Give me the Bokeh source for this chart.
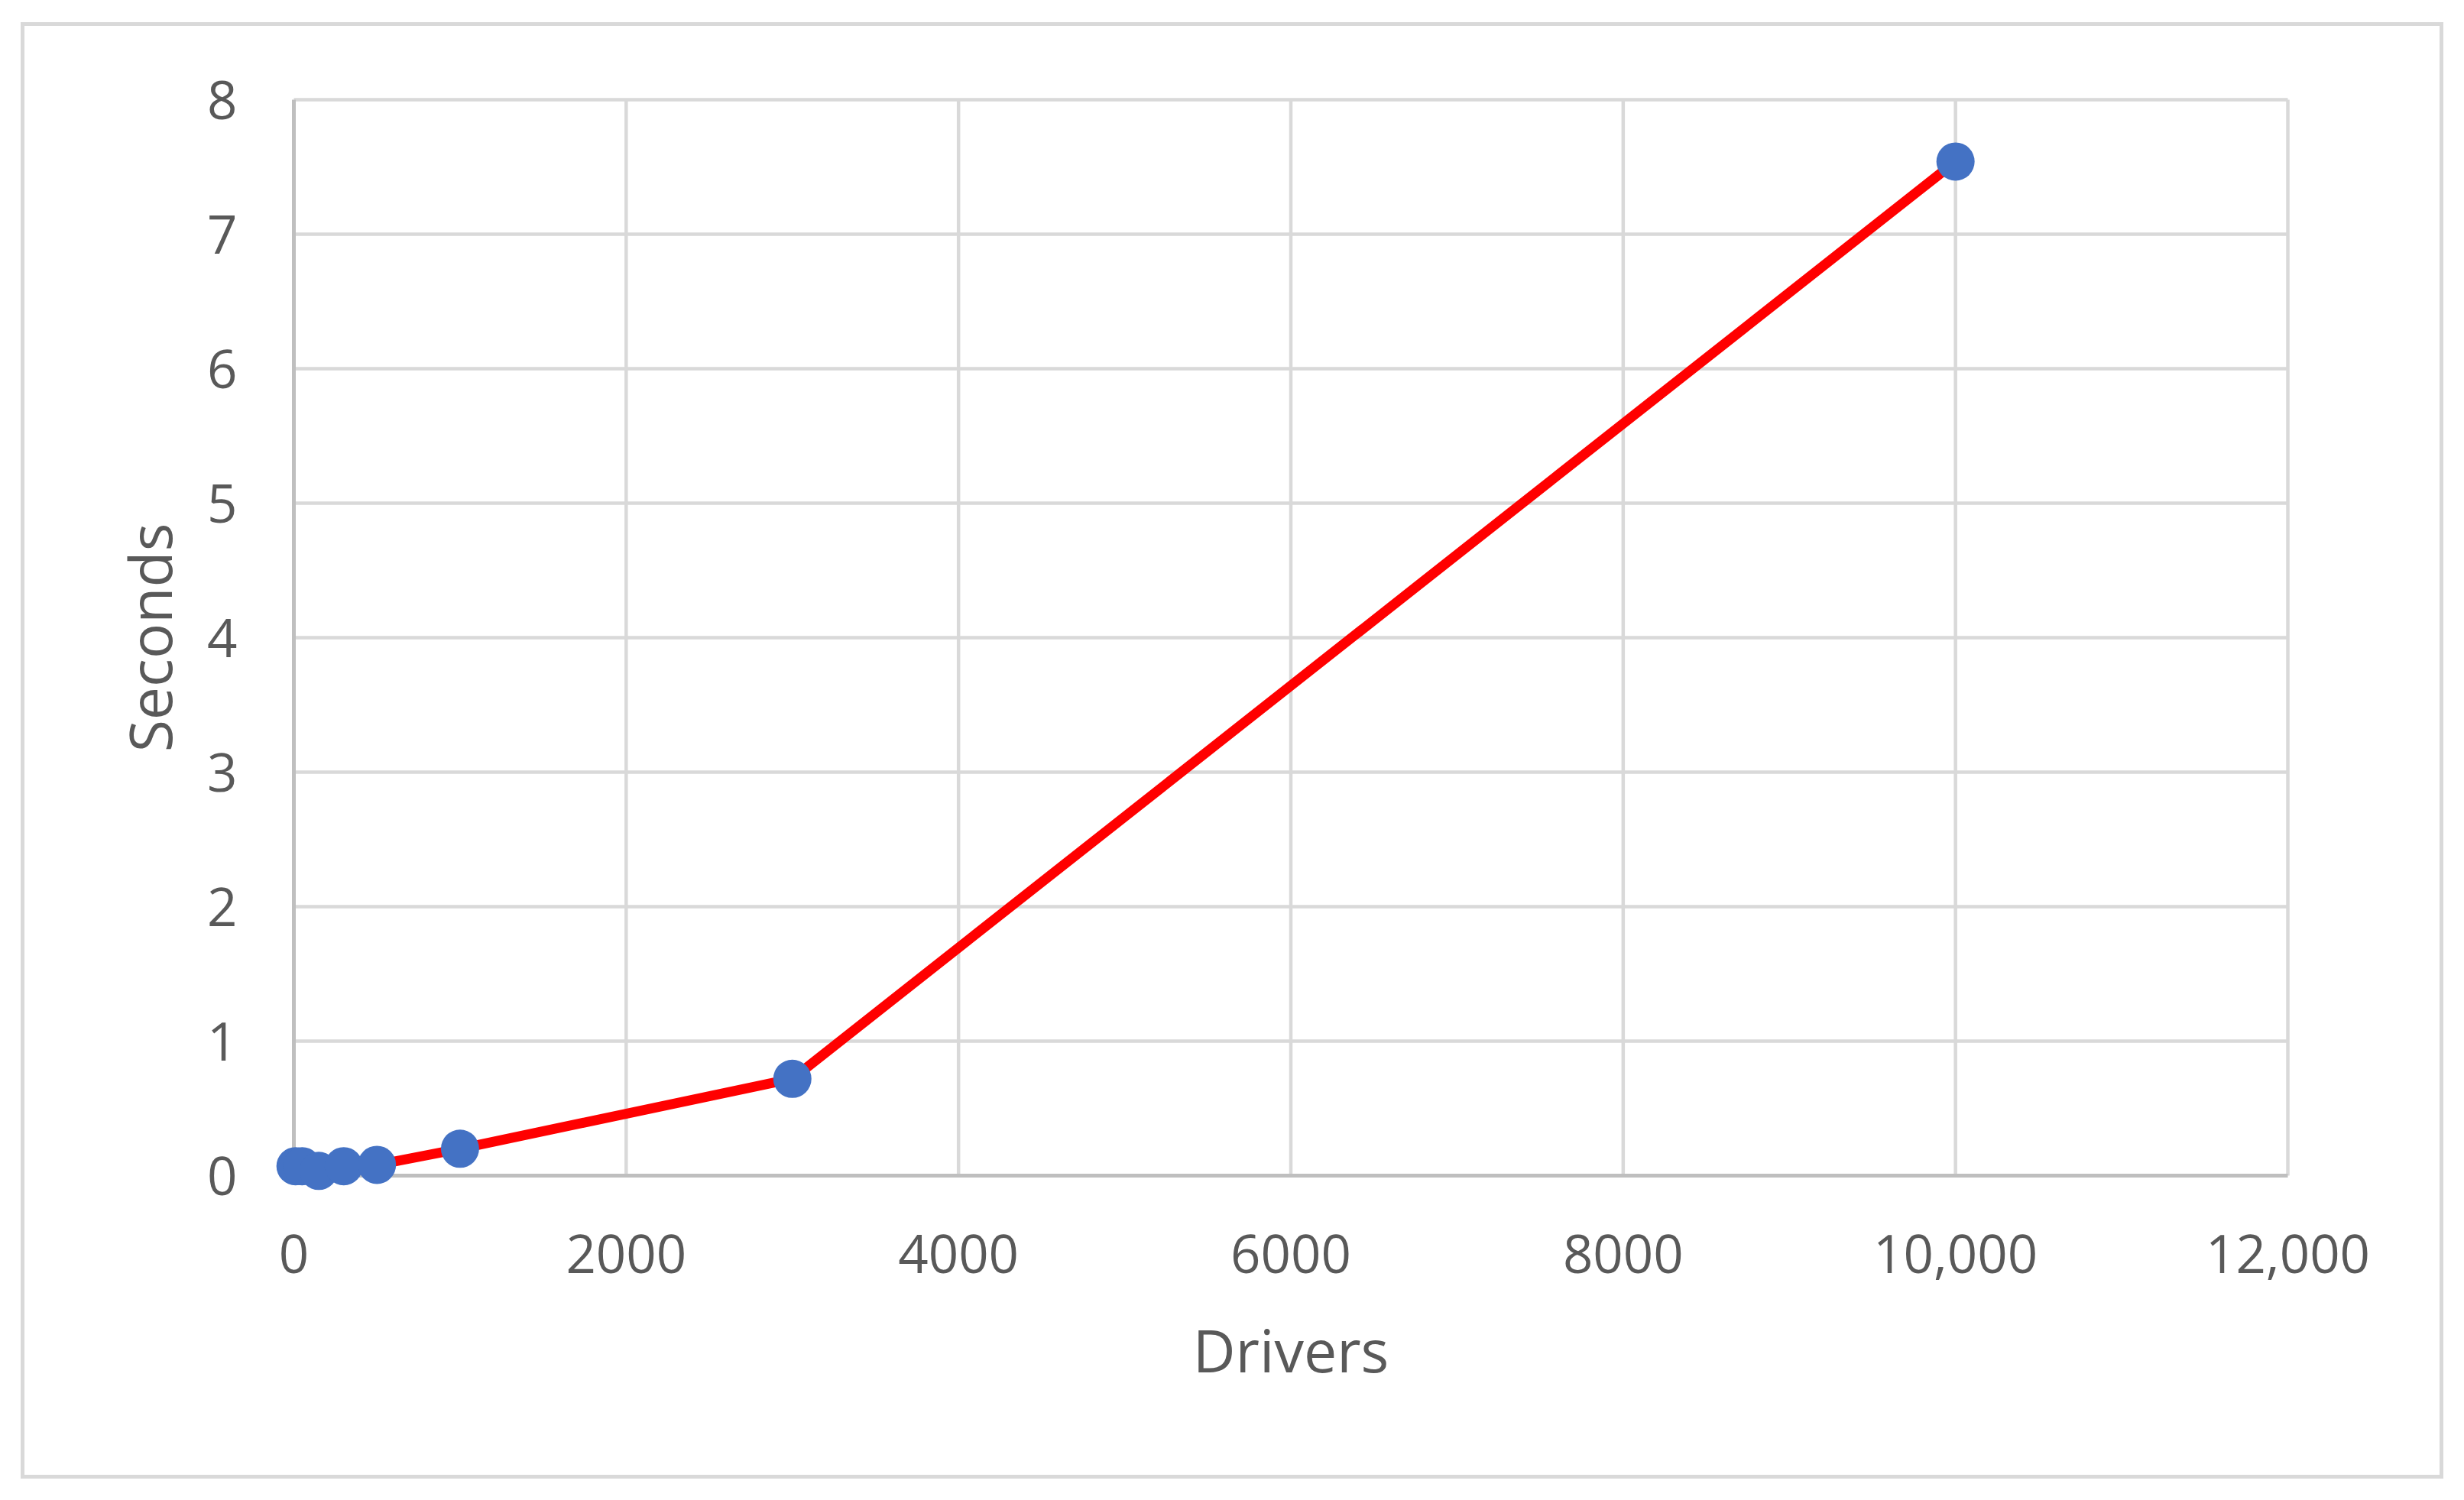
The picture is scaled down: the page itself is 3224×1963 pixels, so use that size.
from bokeh.plotting import figure
from bokeh.models import Range1d, FixedTicker, ColumnDataSource
from bokeh.embed import file_html
from bokeh.resources import INLINE

# ---- data ----
drivers = [10, 50, 150, 300, 500, 1000, 3000, 10000]
seconds = [0.07, 0.07, 0.035, 0.07, 0.08, 0.2, 0.72, 7.54]

x_ticks = [0, 2000, 4000, 6000, 8000, 10000, 12000]
x_tick_labels = ["0", "2000", "4000", "6000", "8000", "10,000", "12,000"]
y_ticks = [0, 1, 2, 3, 4, 5, 6, 7, 8]
y_tick_labels = ["0", "1", "2", "3", "4", "5", "6", "7", "8"]

x_title = "Drivers"
y_title = "Seconds"

# ---- layout geometry ----
FONT = "Open Sans"
TEXT = "#595959"
GRID = "#D9D9D9"
AXIS = "#BFBFBF"

pad_px = 30
data_w, data_h = 2609, 1408
frame_w, frame_h = data_w + 2 * pad_px, data_h + 2 * pad_px
x_per_px = (x_ticks[-1] - x_ticks[0]) / data_w
y_per_px = (y_ticks[-1] - y_ticks[0]) / data_h

p = figure(
    width=3160, height=1896,
    frame_width=frame_w, frame_height=frame_h,
    x_range=Range1d(x_ticks[0] - pad_px * x_per_px, x_ticks[-1] + pad_px * x_per_px),
    y_range=Range1d(y_ticks[0] - pad_px * y_per_px, y_ticks[-1] + pad_px * y_per_px),
    output_backend="svg", toolbar_location=None,
    min_border_left=322, min_border_top=66, min_border_right=169, min_border_bottom=362,
)
p.styles = {"border": "5px solid #D9D9D9", "margin-left": "27px", "margin-top": "29px"}
p.outline_line_color = None
p.xgrid.visible = False
p.ygrid.visible = False

# grid lines (from tick arrays)
p.segment(x0=x_ticks[1:], y0=[y_ticks[0]] * (len(x_ticks) - 1),
          x1=x_ticks[1:], y1=[y_ticks[-1]] * (len(x_ticks) - 1),
          line_color=GRID, line_width=4.5)
p.segment(x0=[x_ticks[0]] * (len(y_ticks) - 1), y0=y_ticks[1:],
          x1=[x_ticks[-1]] * (len(y_ticks) - 1), y1=y_ticks[1:],
          line_color=GRID, line_width=4.5)
# axis lines
p.segment(x0=[x_ticks[0]], y0=[y_ticks[0]], x1=[x_ticks[-1]], y1=[y_ticks[0]],
          line_color=AXIS, line_width=5)
p.segment(x0=[x_ticks[0]], y0=[y_ticks[0]], x1=[x_ticks[0]], y1=[y_ticks[-1]],
          line_color=AXIS, line_width=5)

src = ColumnDataSource(dict(x=drivers, y=seconds))
p.line("x", "y", source=src, line_color="#FF0000", line_width=13, line_join="round")
p.scatter("x", "y", source=src, size=50, fill_color="#4472C4", line_color=None)

# axes
p.xaxis.ticker = FixedTicker(ticks=x_ticks)
p.xaxis.major_label_overrides = {t: l for t, l in zip(x_ticks, x_tick_labels)}
p.yaxis.ticker = FixedTicker(ticks=y_ticks)
p.yaxis.major_label_overrides = {t: l for t, l in zip(y_ticks, y_tick_labels)}

for ax in (p.xaxis[0], p.yaxis[0]):
    ax.axis_line_color = None
    ax.major_tick_line_color = None
    ax.minor_tick_line_color = None
    ax.major_tick_out = 0
    ax.major_tick_in = 0
    ax.minor_tick_out = 0
    ax.major_label_text_font = FONT
    ax.major_label_text_font_size = "69px"
    ax.major_label_text_color = TEXT
    ax.axis_label_text_font = FONT
    ax.axis_label_text_font_size = "77px"
    ax.axis_label_text_color = TEXT
    ax.axis_label_text_font_style = "normal"

p.xaxis.axis_label = x_title
p.yaxis.axis_label = y_title
p.xaxis.major_label_standoff = 47
p.yaxis.major_label_standoff = 44
p.xaxis.axis_label_standoff = 45
p.yaxis.axis_label_standoff = 20

open("out.html", "w").write(file_html(p, INLINE))
